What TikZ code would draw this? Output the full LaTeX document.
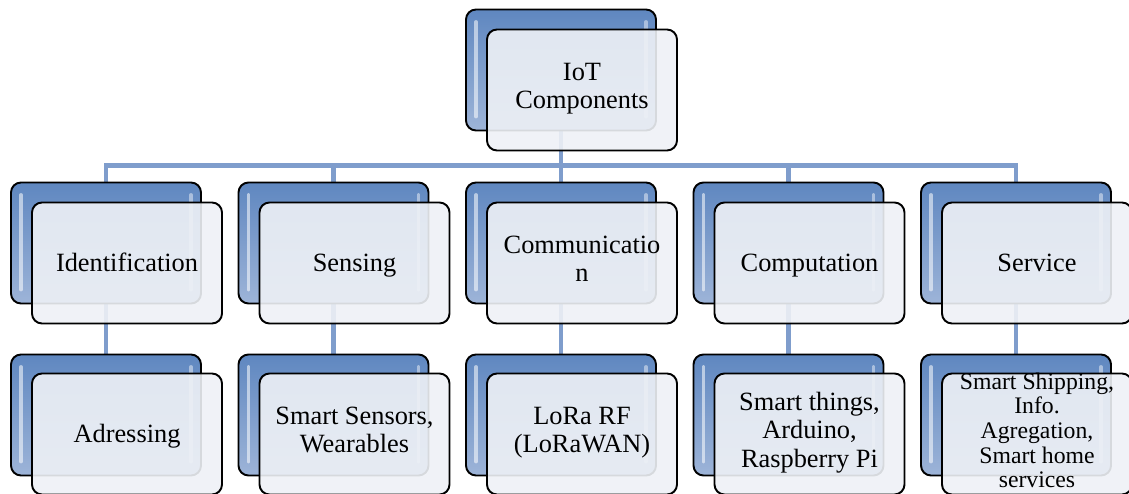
\documentclass[tikz,border=0pt]{standalone}
\usepackage{fontspec}
\setmainfont{Liberation Serif}
\usepackage{tikz}
\usetikzlibrary{positioning,backgrounds}

\definecolor{backtop}{HTML}{5F87C0}
\definecolor{backbot}{HTML}{9DB4D8}
\definecolor{frontfill}{HTML}{EEF1F6}
\definecolor{linkcol}{HTML}{7F9DCC}

\begin{document}
\begin{tikzpicture}
	[   backbox/.style={draw=black,line width=1.1pt,rounded corners=0.2cm,
			minimum width=3.8cm,minimum height=2.42cm,inner sep=0pt,
			top color=backtop,bottom color=backbot,
			path picture={
				\draw[white,opacity=0.55,line width=2.2pt,line cap=round]
				([shift={(0.2,-0.25)}]path picture bounding box.north west) --
				([shift={(0.2,0.28)}]path picture bounding box.south west);
				\draw[white,opacity=0.45,line width=2.2pt,line cap=round]
				([shift={(-0.2,-0.25)}]path picture bounding box.north east) --
				([shift={(-0.2,0.28)}]path picture bounding box.south east);
		}},
		frontbox/.style={draw=black,line width=1.1pt,rounded corners=0.2cm,
			minimum width=3.8cm,minimum height=2.42cm,inner sep=0pt,
			fill=frontfill,fill opacity=0.9,text opacity=1,align=center,
			font=\fontsize{15}{16}\selectfont,
			execute at begin node={\rule{0pt}{14.6pt}},
			execute at end node={\rule[-4.8pt]{0pt}{0pt}}},
	]
	\tikzset{link/.style={draw=linkcol,line width=2.8pt}}
	\useasboundingbox (0,0) rectangle (22.58,-9.88);
	
	\node[backbox] (top-b) at (11.22,-1.4) {};
	\node[frontbox] (top) at ([shift={(0.42,-0.4)}]top-b) {IoT\\Components};
	
	\node[backbox] (c1-b) at (2.12,-4.86) {};
	\node[frontbox] (c1) at ([shift={(0.42,-0.4)}]c1-b) {Identification};
	\node[backbox] (c2-b) at (6.67,-4.86) {};
	\node[frontbox] (c2) at ([shift={(0.42,-0.4)}]c2-b) {Sensing};
	\node[backbox] (c3-b) at (11.22,-4.86) {};
	\node[frontbox] (c3) at ([shift={(0.42,-0.4)}]c3-b) {Communicatio\\n};
	\node[backbox] (c4-b) at (15.77,-4.86) {};
	\node[frontbox] (c4) at ([shift={(0.42,-0.4)}]c4-b) {Computation};
	\node[backbox] (c5-b) at (20.32,-4.86) {};
	\node[frontbox] (c5) at ([shift={(0.42,-0.4)}]c5-b) {Service};
	
	\node[backbox] (d1-b) at (2.12,-8.30) {};
	\node[frontbox] (d1) at ([shift={(0.42,-0.38)}]d1-b) {Adressing};
	\node[backbox] (d2-b) at (6.67,-8.30) {};
	\node[frontbox] (d2) at ([shift={(0.42,-0.38)}]d2-b) {Smart Sensors,\\Wearables};
	\node[backbox] (d3-b) at (11.22,-8.30) {};
	\node[frontbox] (d3) at ([shift={(0.42,-0.38)}]d3-b) {LoRa RF\\(LoRaWAN)};
	\node[backbox] (d4-b) at (15.77,-8.30) {};
	\node[frontbox] (d4) at ([shift={(0.42,-0.38)}]d4-b) {Smart things,\\Arduino,\\Raspberry Pi};
	\node[backbox] (d5-b) at (20.32,-8.30) {};
	\node[frontbox,font=\fontsize{13.5}{14}\selectfont,execute at begin node={},execute at end node={}]
	(d5) at ([shift={(0.42,-0.38)}]d5-b)
	{\smash{\raisebox{1.5pt}{\begin{tabular}{@{}c@{}}Smart Shipping,\\Info.\\Agregation,\\Smart home\\services\end{tabular}}}};
	
	% tree lines behind the boxes
	\begin{scope}[on background layer]
		\foreach \x in {1,...,5}
		{
			\path[link] (top-b.south) -- ++(0,-0.68) -| (c\x-b.north);
			\path[link] (c\x-b.south) -- (d\x-b.north);
		}
	\end{scope}
\end{tikzpicture}
\end{document}
